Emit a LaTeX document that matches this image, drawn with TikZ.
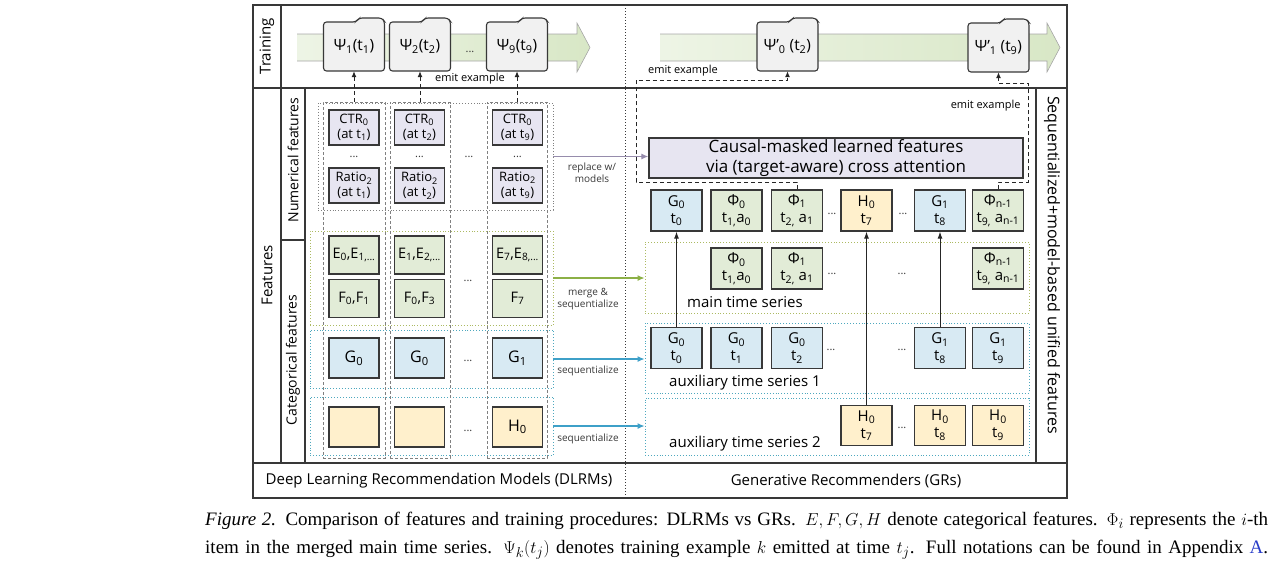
\documentclass[tikz,border=0pt]{standalone}
\usepackage{fontspec}
\setmainfont{Open Sans}
\newfontfamily\capfont{Liberation Serif}
\usepackage{tikz}
\usetikzlibrary{arrows.meta}
\definecolor{DGray}{rgb}{0.22,0.22,0.22}
\definecolor{LPurple}{RGB}{231,229,241}
\definecolor{LGreen}{RGB}{226,236,215}
\definecolor{LBlue}{RGB}{216,234,243}
\definecolor{LYellow}{RGB}{255,240,204}
\definecolor{Olive}{RGB}{172,186,98}
\definecolor{Teal}{RGB}{78,168,190}
\definecolor{BandGreen}{RGB}{216,231,198}
\definecolor{ArrGreen}{RGB}{140,176,70}
\definecolor{ArrBlue}{RGB}{62,160,200}
\definecolor{ArrPurple}{RGB}{150,140,172}
\definecolor{FolderGray}{RGB}{241,241,241}
\definecolor{LinkBlue}{RGB}{40,60,200}
\tikzset{frame/.style={draw=DGray, line width=1.3pt},
  cell/.style={draw=DGray, line width=1.3pt, minimum width=50pt, minimum height=40pt,
    inner sep=0pt, align=center, font=\fontsize{14.5}{17}\selectfont},
  numcell/.style={cell, fill=LPurple, minimum height=35pt, font=\fontsize{13}{15}\selectfont},
  grncell/.style={cell, fill=LGreen, minimum height=38pt},
  blucell/.style={cell, fill=LBlue, font=\fontsize{16}{17}\selectfont},
  yelcell/.style={cell, fill=LYellow, font=\fontsize{16}{17}\selectfont},
  grcell/.style={minimum width=51pt, minimum height=41pt, font=\fontsize{15}{17}\selectfont},
  colbox/.style={draw=gray, line width=0.7pt, dash pattern=on 3pt off 2pt, minimum height=356pt, minimum width=60pt},
  grpbox/.style={line width=0.9pt, dotted, inner sep=0pt},
  dots/.style={font=\fontsize{11}{11}\selectfont, text=DGray, inner sep=0pt},
  psibox/.style={minimum width=61pt, minimum height=49pt, font=\fontsize{15.5}{17}\selectfont},
  foldline/.style={draw=DGray, line width=1.1pt, fill=FolderGray, rounded corners=3pt},
  band/.style={draw=gray!70, line width=0.6pt, left color=BandGreen!45, right color=BandGreen},
  emit/.style={draw=black!85, line width=1pt, dash pattern=on 4pt off 3pt, -{Latex[length=6pt,width=5pt]}},
  uparrow/.style={draw=black!85, line width=0.9pt, -{Latex[length=7pt,width=5pt]}},
  flow/.style={line width=1.2pt, -{Latex[length=7pt,width=6pt]}},
  small/.style={font=\fontsize{10}{12}\selectfont, text=DGray, align=center},
  tslab/.style={font=\fontsize{15}{17}\selectfont},
  lab/.style={font=\fontsize{15}{17}\selectfont}}
\newcommand{\sbs}[1]{\textsubscript{#1}}
\newcommand{\folder}[3]{%
  \draw[foldline] ([shift={(-30.5pt,-24.5pt)}]#2) -- ([shift={(-30.5pt,24.5pt)}]#2)
    -- ([shift={(2pt,24.5pt)}]#2) -- ([shift={(5pt,28.5pt)}]#2) -- ([shift={(28pt,28.5pt)}]#2)
    -- ([shift={(30.5pt,25pt)}]#2) -- ([shift={(30.5pt,-24.5pt)}]#2) -- cycle;
  \node[psibox] (#1) at (#2) {#3};}

\begin{document}
\begin{tikzpicture}[x=1pt,y=-1pt]
\useasboundingbox (0,0) rectangle (1280,566);

% frame
\draw[frame] (253,5) rectangle (1067,498);
\draw[frame] (253,88) -- (1067,88);
\draw[frame] (253,463) -- (1067,463);
\draw[frame] (281,5) -- (281,88);
\draw[frame] (281,88) -- (281,463);
\draw[frame] (305,88) -- (305,463);
\draw[frame] (281,240) -- (305,240);
\draw[frame] (1036,88) -- (1036,463);
\draw[draw=DGray, line width=1pt, dotted] (625,5) -- (625,498);

\node[lab, rotate=90] (trainlab) at (267,46.5) {Training};
\node[lab, rotate=90] (featlab) at (267,275.5) {Features};
\node[rotate=90, font=\fontsize{14}{15}\selectfont] (numlab) at (293,160) {Numerical features};
\node[rotate=90, font=\fontsize{14}{15}\selectfont] (catlab) at (293,360) {Categorical features};
\node[rotate=-90, font=\fontsize{16}{17}\selectfont] (seqlab) at (1052,265) {Sequentialized+model-based unified features};
\node[lab] (dlrmlab) at (439,481) {Deep Learning Recommendation Models (DLRMs)};
\node[lab] (grlab) at (846,481) {Generative Recommenders (GRs)};

% training bands
\draw[band] (297,34) -- (577,34) -- (577,23) -- (590,47.5) -- (577,72) -- (577,61) -- (297,61);
\draw[band] (660,34) -- (1047,34) -- (1047,23) -- (1060,47.5) -- (1047,72) -- (1047,61) -- (660,61);

\folder{psiA}{354,46.5}{Ψ\sbs{1}(t\sbs{1})}
\folder{psiB}{420,46.5}{Ψ\sbs{2}(t\sbs{2})}
\folder{psiC}{517,46.5}{Ψ\sbs{9}(t\sbs{9})}
\node[dots] (dpsi) at (470,52) {...};
\folder{gpsiA}{787.5,46.5}{Ψ'\sbs{0} (t\sbs{2})}
\folder{gpsiB}{998.5,47.5}{Ψ'\sbs{1} (t\sbs{9})}

% DLRM side
\node[grpbox, draw=gray, minimum width=235pt, minimum height=107pt] (numbox) at (435.5,156.5) {};
\node[grpbox, draw=Olive, minimum width=243pt, minimum height=94pt] (ebox) at (431.5,278) {};
\node[grpbox, draw=Teal, minimum width=243pt, minimum height=58pt] (gbox) at (431.5,359) {};
\node[grpbox, draw=Teal, minimum width=243pt, minimum height=58pt] (hbox) at (431.5,426) {};
\node[colbox, minimum width=62pt] (colA) at (354,280) {};
\node[colbox] (colB) at (420,280) {};
\node[colbox] (colC) at (517,280) {};

\node[numcell] (ctrA) at (354,127.5) {CTR\sbs{0}\\(at t\sbs{1})};
\node[numcell] (ctrB) at (419.5,127.5) {CTR\sbs{0}\\(at t\sbs{2})};
\node[numcell] (ctrC) at (517.5,127.5) {CTR\sbs{0}\\(at t\sbs{9})};
\node[numcell] (ratA) at (354,185.5) {Ratio\sbs{2}\\(at t\sbs{1})};
\node[numcell] (ratB) at (419.5,185.5) {Ratio\sbs{2}\\(at t\sbs{2})};
\node[numcell] (ratC) at (517.5,185.5) {Ratio\sbs{2}\\(at t\sbs{9})};
\node[dots] (dnA) at (354,157) {...};
\node[dots] (dnB) at (419.5,157) {...};
\node[dots] (dnC) at (517.5,157) {...};
\node[dots] (dn) at (469,157) {...};

\node[grncell] (eA) at (354,255) {E\sbs{0},E\sbs{1,...}};
\node[grncell] (eB) at (419.5,255) {E\sbs{1},E\sbs{2,...}};
\node[grncell] (eC) at (517.5,255) {E\sbs{7},E\sbs{8,...}};
\node[grncell] (fA) at (354,298.5) {F\sbs{0},F\sbs{1}};
\node[grncell] (fB) at (419.5,298.5) {F\sbs{0},F\sbs{3}};
\node[grncell] (fC) at (517.5,298.5) {F\sbs{7}};
\node[dots] (de) at (468,281) {...};
\node[blucell] (gA) at (354,358) {G\sbs{0}};
\node[blucell] (gB) at (419.5,358) {G\sbs{0}};
\node[blucell] (gC) at (517.5,358) {G\sbs{1}};
\node[dots] (dg) at (468,361) {...};
\node[yelcell] (hA) at (354,427) {};
\node[yelcell] (hB) at (419.5,427) {};
\node[yelcell] (hC) at (517.5,427) {H\sbs{0}};
\node[dots] (dh) at (468,431) {...};

\draw[emit] (colA.north) -- (psiA.south);
\draw[emit] (colB.north) -- (psiB.south);
\draw[emit] (colC.north) -- (psiC.south);
\node[font=\fontsize{11}{12}\selectfont] (emitA) at (470,79) {emit example};

% GR side
\node[cell, fill=LPurple, minimum width=374pt, font=\fontsize{17}{20}\selectfont] (causal) at (836,158) {Causal-masked learned features\\via (target-aware) cross attention};
\node[grpbox, draw=Olive, minimum width=384pt, minimum height=71pt] (mainbox) at (837,277.5) {};
\node[grpbox, draw=Teal, minimum width=384pt, minimum height=70pt] (auxA) at (837,358) {};
\node[grpbox, draw=Teal, minimum width=384pt, minimum height=57pt] (auxB) at (837,426.5) {};

\node[blucell, grcell] (tG0) at (676.5,210.5) {G\sbs{0}\\t\sbs{0}};
\node[grncell, grcell] (tP0) at (736.5,210.5) {Φ\sbs{0}\\t\sbs{1,}a\sbs{0}};
\node[grncell, grcell] (tP1) at (797,210.5) {Φ\sbs{1}\\t\sbs{2,} a\sbs{1}};
\node[yelcell, grcell] (tH0) at (866.5,210.5) {H\sbs{0}\\t\sbs{7}};
\node[blucell, grcell] (tG1) at (940,210.5) {G\sbs{1}\\t\sbs{8}};
\node[grncell, grcell] (tPn) at (998,210.5) {Φ\sbs{n-1}\\t\sbs{9,} a\sbs{n-1}};
\node[dots] (dt1) at (832,214) {...};
\node[dots] (dt2) at (903,214) {...};

\node[grncell, grcell] (mP0) at (736.5,268.5) {Φ\sbs{0}\\t\sbs{1,}a\sbs{0}};
\node[grncell, grcell] (mP1) at (797,268.5) {Φ\sbs{1}\\t\sbs{2,} a\sbs{1}};
\node[grncell, grcell] (mPn) at (998,268.5) {Φ\sbs{n-1}\\t\sbs{9,} a\sbs{n-1}};
\node[dots] (dm1) at (832,274) {...};
\node[dots] (dm2) at (902,274) {...};
\node[tslab] (mainlab) at (745,302) {main time series};

\node[blucell, grcell] (aG0) at (676.5,348) {G\sbs{0}\\t\sbs{0}};
\node[blucell, grcell] (aG1) at (736.5,348) {G\sbs{0}\\t\sbs{1}};
\node[blucell, grcell] (aG2) at (797,348) {G\sbs{0}\\t\sbs{2}};
\node[blucell, grcell] (aG8) at (940,348) {G\sbs{1}\\t\sbs{8}};
\node[blucell, grcell] (aG9) at (998,348) {G\sbs{1}\\t\sbs{9}};
\node[dots] (da1) at (831,350) {...};
\node[dots] (da2) at (902,350) {...};
\node[tslab] (auxlabA) at (745,383) {auxiliary time series 1};

\node[yelcell, grcell, minimum height=40pt] (bH7) at (866.5,425.5) {H\sbs{0}\\t\sbs{7}};
\node[yelcell, grcell, minimum height=40pt] (bH8) at (940,425.5) {H\sbs{0}\\t\sbs{8}};
\node[yelcell, grcell, minimum height=40pt] (bH9) at (998,425.5) {H\sbs{0}\\t\sbs{9}};
\node[dots] (db1) at (902,428) {...};
\node[tslab] (auxlabB) at (745,444) {auxiliary time series 2};

\draw[uparrow] (aG0.north) -- (tG0.south);
\draw[uparrow] (bH7.north) -- (tH0.south);
\draw[uparrow] (aG8.north) -- (tG1.south);

% feature flows
\draw[flow, draw=ArrPurple] (numbox.east) -- (numbox.east -| causal.west);
\draw[flow, draw=ArrGreen] (ebox.east) -- (ebox.east -| mainbox.west);
\draw[flow, draw=ArrBlue] (gbox.east) -- (gbox.east -| auxA.west);
\draw[flow, draw=ArrBlue] (hbox.east) -- (hbox.east -| auxB.west);
\node[small] (repl) at (592,173) {replace w/\\models};
\node[small] (merge) at (588,299) {merge \&\\sequentialize};
\node[small] (seqA) at (588,371) {sequentialize};
\node[small] (seqB) at (588,439) {sequentialize};

% emit from GRs
\coordinate (eL) at (636,80);
\coordinate (eR) at (1028,83);
\draw[emit] (tP1.north) -- ++(0,-7) -| (eL) -| (gpsiA.south);
\draw[emit] (tPn.north) -- ++(0,-7) -| (eR) -| (gpsiB.south);
\node[font=\fontsize{11}{12}\selectfont] (emitB) at (683,71) {emit example};
\node[font=\fontsize{11}{12}\selectfont, anchor=east] (emitC) at (1024,106) {emit example};

% caption
\node[anchor=base west, inner sep=0pt, font=\capfont\fontsize{19}{20}\selectfont] (capA) at (205,525)
  {\makebox[1063pt][s]{\textit{Figure 2.} Comparison of features and training procedures: DLRMs vs GRs. $E, F, G, H$ denote categorical features. $\Phi_i$ represents the $i$-th}};
\node[anchor=base west, inner sep=0pt, font=\capfont\fontsize{19}{20}\selectfont] (capB) at (205,553)
  {\makebox[1063pt][s]{item in the merged main time series. $\Psi_k(t_j)$ denotes training example $k$ emitted at time $t_j$. Full notations can be found in Appendix \textcolor{LinkBlue}{A}.}};
\end{tikzpicture}
\end{document}
